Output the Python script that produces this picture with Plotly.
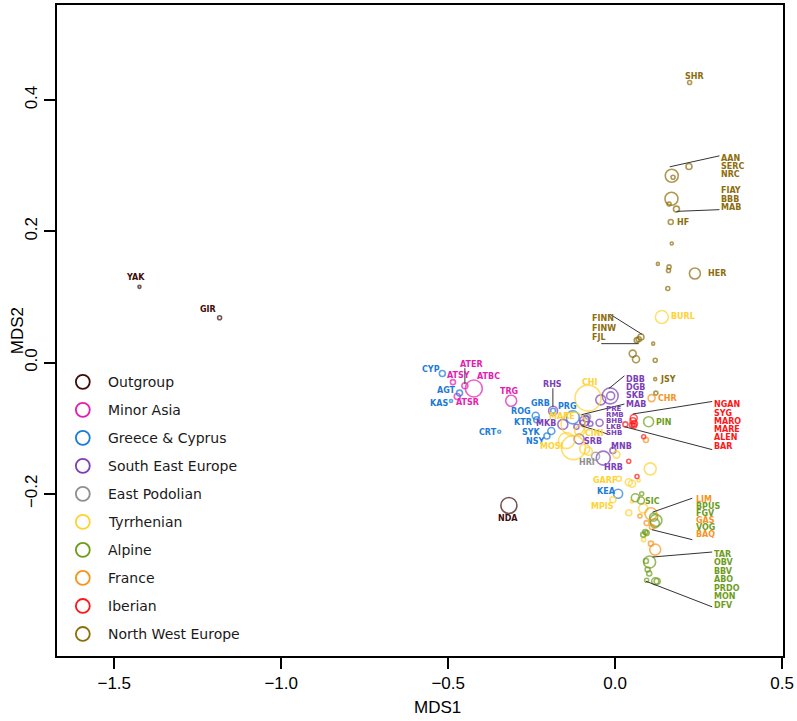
import plotly.graph_objects as go

# ---------------- data ----------------
groups = ["Outgroup", "Minor Asia", "Greece & Cyprus", "South East Europe",
          "East Podolian", "Tyrrhenian", "Alpine", "France", "Iberian",
          "North West Europe"]
group_colors = ["#3D0B0B", "#E41DB0", "#1B7BD6", "#7B3FB6", "#8F8F8F",
                "#FFD232", "#6E9D1C", "#F7941D", "#FF1616", "#8C6D0C"]

pop_names = [
    # Outgroup
    "YAK", "GIR", "NDA",
    # Minor Asia
    "ATER", "ATSY", "ATBC", "ATSR", "TRG",
    # Greece & Cyprus
    "CYP", "AGT", "KAS", "CRT", "GRB", "PRG", "ROG", "KTR", "SYK", "NSY", "KEA",
    # South East Europe
    "RHS", "MKB", "DBB", "DGB", "SKB", "MAB", "PRE", "RMB", "BHB", "LKB", "SHB",
    "SRB", "MNB", "HRB",
    # East Podolian
    "HRI", "",
    # Tyrrhenian
    "CHI", "MARE", "MOSI", "CINI", "", "", "", "", "", "GARF", "", "", "",
    "MPIS", "", "", "", "", "BURL",
    # Alpine
    "PIN", "SIC", "", "", "BPUS", "FGV", "VOG", "", "", "", "TAR", "OBV", "BBV",
    "ABO", "PRDO", "MON", "DFV",
    # France
    "CHR", "", "LIM", "GAS", "BAQ", "", "", "",
    # Iberian
    "NGAN", "SYG", "MARO", "MARE", "ALEN", "BAR", "", "", "",
    # North West Europe
    "SHR", "AAN", "SERC", "NRC", "FIAY", "BBB", "MAB", "HF", "", "", "", "",
    "HER", "", "FINN", "FINW", "FJL", "", "", "", "", "JSY", "",
]
pop_group = (
    [0] * 3 + [1] * 5 + [2] * 11 + [3] * 14 + [4] * 2 + [5] * 19 + [6] * 17
    + [7] * 8 + [8] * 9 + [9] * 23
)
mds1 = [
    -1.4245, -1.1845, -0.3182,
    -0.450, -0.4857, -0.4232, -0.4729, -0.3114,
    -0.5175, -0.466, -0.4916, -0.3471, -0.1859, -0.127, -0.2379, -0.2349,
    -0.1912, -0.2043, 0.0089,
    -0.1859, -0.1567, -0.0149, -0.0134, -0.0431, -0.0913, -0.0467, -0.0862,
    -0.0981, -0.0743, -0.116, -0.108, -0.0068, -0.0357,
    -0.0586, -0.0812,
    -0.0812, -0.1258, -0.1457, -0.1062, -0.1249, -0.0913, -0.0803, 0.0039,
    0.105, 0.011, 0.0407, 0.0506, 0.0705, -0.0068, 0.0506, 0.0842, 0.0407,
    0.0854, 0.1398,
    0.1002, 0.0773, 0.0604, 0.0794, 0.1219, 0.1151, 0.119, 0.0901, 0.0842,
    0.0943, 0.1032, 0.0922, 0.0972, 0.102, 0.0943, 0.1199, 0.1258,
    0.1091, 0.0922, 0.1071, 0.0743, 0.0943, 0.11, 0.1071, 0.1199,
    0.0556, 0.0535, 0.0574, 0.0506, 0.0306, 0.0565, 0.0854, 0.0407, 0.0654,
    0.223, 0.221, 0.1695, 0.1734, 0.1686, 0.1615, 0.1835, 0.1665, 0.1695,
    0.1279, 0.1615, 0.1597, 0.2388, 0.1576, 0.0773, 0.0705, 0.0645, 0.1139,
    0.0526, 0.0625, 0.1199, 0.1199, 0.1219,
]
mds2 = [
    0.1154, 0.0684, -0.2177,
    -0.0354, -0.0298, -0.0395, -0.0516, -0.0582,
    -0.0167, -0.0465, -0.0586, -0.1053, -0.0734, -0.0835, -0.081, -0.087,
    -0.1042, -0.1118, -0.1999,
    -0.0734, -0.0942, -0.0507, -0.0507, -0.0568, -0.0886, -0.0916, -0.0855,
    -0.0916, -0.0931, -0.0977, -0.1164, -0.1341, -0.1455,
    -0.1428, -0.0825,
    -0.0541, -0.0936, -0.1189, -0.1038, -0.1296, -0.1316, -0.1352, -0.1402,
    -0.1619, -0.1771, -0.1823, -0.1847, -0.1797, -0.209, -0.2116, -0.2222,
    -0.2288, -0.2698, 0.0694,
    -0.0901, -0.2101, -0.206, -0.1999, -0.2405, -0.2355, -0.245, -0.2582,
    -0.2622, -0.2598, -0.3038, -0.3023, -0.3154, -0.3214, -0.3316, -0.3331,
    -0.3331,
    -0.0541, -0.1179, -0.2303, -0.2339, -0.2446, -0.2506, -0.2759, -0.285,
    -0.0845, -0.0886, -0.0927, -0.0951, -0.0942, -0.0962, -0.1129, -0.1504,
    -0.1736,
    0.4269, 0.2988, 0.2847, 0.2825, 0.2497, 0.2415, 0.2339, 0.2142, 0.1814,
    0.1504, 0.1458, 0.1404, 0.1358, 0.113, 0.039, 0.0355, 0.034, 0.0289,
    0.0137, 0.0052, 0.0036, -0.0252, -0.0465,
]
# relative circle magnitude of each population
circle_scale = [
    3, 4, 16,
    6, 5, 17, 6, 11,
    6, 6, 3, 3, 5, 13, 7, 6, 7, 6, 9,
    9, 10, 16, 8, 10, 10, 7, 6, 5, 5, 5, 10, 6, 14,
    8, 5,
    26, 24, 16, 10, 24, 10, 8, 7, 12, 5, 7, 7, 3, 6, 3, 9, 6, 4, 13,
    10, 7, 8, 4, 12, 8, 9, 5, 5, 5, 12, 5, 5, 5, 4, 7, 6,
    7, 5, 12, 4, 5, 5, 5, 11,
    7, 6, 6, 5, 5, 5, 4, 4, 4,
    4, 6, 13, 4, 13, 4, 6, 5, 3, 3, 4, 4, 11, 4, 6, 5, 5, 3, 7, 7, 4, 3, 4,
]

# ---------------- layout constants ----------------
W, H = 797, 721
ML, MR, MT, MB = 57, 9, 3, 65
XR = [-1.6714, 0.5026]
YR = [-0.4471, 0.5449]
PW, PH = W - ML - MR, H - MT - MB


def px_x(px):
    return XR[0] + (px - ML) / PW * (XR[1] - XR[0])


def px_y(py):
    return YR[1] - (py - MT) / PH * (YR[1] - YR[0])


# label placement (pixel position, anchor, font size) - layout only
label_layout = [
    ("YAK", 0, 136, 276, "center"), ("GIR", 0, 209, 308, "center"),
    ("NDA", 0, 511, 518, "center"),
    ("ATER", 1, 474, 364, "center"), ("ATSY", 1, 461, 375, "center"),
    ("ATBC", 1, 491, 375.7, "center"), ("ATSR", 1, 470, 402, "center"),
    ("TRG", 1, 512, 390.7, "center"),
    ("CYP", 2, 433.3, 369, "center"), ("AGT", 2, 449, 389.3, "center"),
    ("KAS", 2, 441.7, 403, "center"), ("CRT", 2, 490.7, 432.3, "center"),
    ("GRB", 2, 544.3, 402.7, "center"), ("PRG", 2, 571.3, 405.3, "center"),
    ("ROG", 2, 524.3, 410.7, "center"), ("KTR", 2, 526, 422, "center"),
    ("SYK", 2, 535, 432, "center"), ("NSY", 2, 538.3, 440.7, "center"),
    ("KEA", 2, 610, 491, "center"),
    ("RHS", 3, 556, 384, "center"), ("MKB", 3, 549.3, 422.7, "center"),
    ("DBB", 3, 628, 378.5, "left"), ("DGB", 3, 628, 386.8, "left"),
    ("SKB", 3, 628, 395.1, "left"), ("MAB", 3, 628, 403.4, "left"),
    ("PRE", 3, 608, 408.7, "left", 7), ("RMB", 3, 608, 414.4, "left", 7),
    ("BHB", 3, 608, 420.3, "left", 7), ("LKB", 3, 608, 426.2, "left", 7),
    ("SHB", 3, 608, 432, "left", 7), ("SRB", 3, 596.7, 441.3, "center"),
    ("MNB", 3, 625, 446.3, "center"), ("HRB", 3, 617.3, 467, "center"),
    ("HRI", 4, 590.7, 462.3, "center"),
    ("CHI", 5, 593.3, 381.3, "center"), ("MARE", 5, 565, 416, "center"),
    ("MOSI", 5, 555, 446, "center"), ("CINI", 5, 598.3, 432.7, "center"),
    ("GARF", 5, 608.3, 480, "center"), ("MPIS", 5, 606, 505.7, "center"),
    ("BURL", 5, 687.3, 315.7, "center"),
    ("PIN", 6, 667.7, 421.7, "center"), ("SIC", 6, 656.7, 500.7, "center"),
    ("BPUS", 6, 698, 506.3, "left"), ("FGV", 6, 698, 513.3, "left"),
    ("VOG", 6, 698, 527.3, "left"),
    ("TAR", 6, 716.7, 554.3, "left"), ("OBV", 6, 716.7, 562.7, "left"),
    ("BBV", 6, 716.7, 571, "left"), ("ABO", 6, 716.7, 579.3, "left"),
    ("PRDO", 6, 716.7, 588, "left"), ("MON", 6, 716.7, 596.7, "left"),
    ("DFV", 6, 716.7, 605.3, "left"),
    ("CHR", 7, 671.7, 397.3, "center"), ("LIM", 7, 698, 499.3, "left"),
    ("GAS", 7, 698, 520.3, "left"), ("BAQ", 7, 698, 534.3, "left"),
    ("NGAN", 8, 716.7, 404, "left"), ("SYG", 8, 716.7, 412.3, "left"),
    ("MARO", 8, 716.7, 420.7, "left"), ("MARE", 8, 716.7, 429, "left"),
    ("ALEN", 8, 716.7, 437.3, "left"), ("BAR", 8, 716.7, 445.7, "left"),
    ("SHR", 9, 699.3, 74.3, "center"), ("AAN", 9, 724, 156.7, "left"),
    ("SERC", 9, 724, 165, "left"), ("NRC", 9, 724, 173.3, "left"),
    ("FIAY", 9, 724, 189, "left"), ("BBB", 9, 724, 197.7, "left"),
    ("MAB", 9, 724, 206, "left"), ("HF", 9, 687.7, 220.7, "center"),
    ("HER", 9, 721.7, 272.3, "center"), ("FINN", 9, 594, 317.5, "left"),
    ("FINW", 9, 594, 327, "left"), ("FJL", 9, 594, 336.5, "left"),
    ("JSY", 9, 672.7, 378.7, "center"),
]

leader_lines = [
    ((467.7, 367.3), (467.7, 383.3)), ((556.3, 387.5), (556.3, 406)),
    ((628.3, 375), (612.7, 387.7)), ((628.3, 403.3), (585, 414)),
    ((585, 425), (612, 433.5)), ((716.7, 400.7), (636.7, 413.3)),
    ((716.7, 449), (628.3, 426)), ((696.7, 497.7), (656.7, 511.7)),
    ((696.7, 539.3), (656, 529.3)), ((716.7, 551.7), (656.7, 556.7)),
    ((716.7, 606.7), (650, 581)), ((724, 154.3), (674, 165.3)),
    ((724, 208.3), (680.7, 210)), ((614, 313.3), (646, 333.3)),
    ((605, 342.7), (642.7, 342.7)),
]

fig = go.Figure()

for gi, gname in enumerate(groups):
    idx = [i for i, g in enumerate(pop_group) if g == gi]
    fig.add_trace(go.Scatter(
        x=[mds1[i] for i in idx], y=[mds2[i] for i in idx],
        text=[pop_names[i] for i in idx],
        mode="markers", name=gname, showlegend=False,
        marker=dict(symbol="circle-open", size=[circle_scale[i] for i in idx],
                    color=group_colors[gi], line=dict(width=1.6)),
        hovertemplate="%{text}<extra>" + gname + "</extra>",
    ))

shapes = []
for (a, b) in leader_lines:
    shapes.append(dict(type="line", xref="x", yref="y",
                       x0=px_x(a[0]), y0=px_y(a[1]), x1=px_x(b[0]), y1=px_y(b[1]),
                       line=dict(color="#333333", width=1)))

annotations = []
for item in label_layout:
    txt, gi, px, py, anc = item[:5]
    fs = item[5] if len(item) > 5 else 8
    annotations.append(dict(x=px_x(px), y=px_y(py), xref="x", yref="y",
                            text=txt, showarrow=False, xanchor=anc, yanchor="middle",
                            font=dict(family="DejaVu Sans", size=fs, weight="bold",
                                      color=group_colors[gi])))

# legend (drawn inside the plot area)
for gi, gname in enumerate(groups):
    cy = 381 + 28.1 * gi
    shapes.append(dict(type="circle", xref="x", yref="y",
                       x0=px_x(76), x1=px_x(90), y0=px_y(cy - 7), y1=px_y(cy + 7),
                       line=dict(color=group_colors[gi], width=1.8)))
    annotations.append(dict(x=px_x(106), y=px_y(cy), xref="x", yref="y",
                            text=gname, showarrow=False, xanchor="left",
                            yanchor="middle",
                            font=dict(family="DejaVu Sans", size=14, color="#1a1a1a")))

# axis titles
annotations.append(dict(x=(440 - ML) / PW, y=(H - MB - 708) / PH, xref="paper",
                        yref="paper", text="MDS1", showarrow=False,
                        xanchor="center", yanchor="middle",
                        font=dict(family="Liberation Sans", size=17, color="black")))
annotations.append(dict(x=(18 - ML) / PW, y=(H - MB - 330) / PH, xref="paper",
                        yref="paper", text="MDS2", showarrow=False, textangle=-90,
                        xanchor="center", yanchor="middle",
                        font=dict(family="Liberation Sans", size=17, color="black")))

axis_common = dict(showgrid=False, zeroline=False, showline=True, mirror=True,
                   linecolor="black", linewidth=1.5, ticks="outside", ticklen=11,
                   tickwidth=1.5, tickcolor="black", ticklabeloverflow="allow",
                   tickfont=dict(family="Liberation Sans", size=17, color="black"))

fig.update_layout(
    width=W, height=H,
    margin=dict(l=ML, r=MR, t=MT, b=MB),
    paper_bgcolor="white", plot_bgcolor="white",
    xaxis=dict(range=XR, tickvals=[-1.5, -1.0, -0.5, 0.0, 0.5],
               ticktext=["\u22121.5", "\u22121.0", "\u22120.5", "0.0", "0.5"],
               **axis_common),
    yaxis=dict(range=YR, tickvals=[-0.2, 0.0, 0.2, 0.4],
               ticktext=["\u22120.2", "0.0", "0.2", "0.4"], tickangle=-90,
               **axis_common),
    shapes=shapes, annotations=annotations, showlegend=False,
)

fig.write_html("out.html", config={"displayModeBar": False},
               post_script="document.body.style.margin='0';"
                           "document.body.style.overflow='hidden';")
